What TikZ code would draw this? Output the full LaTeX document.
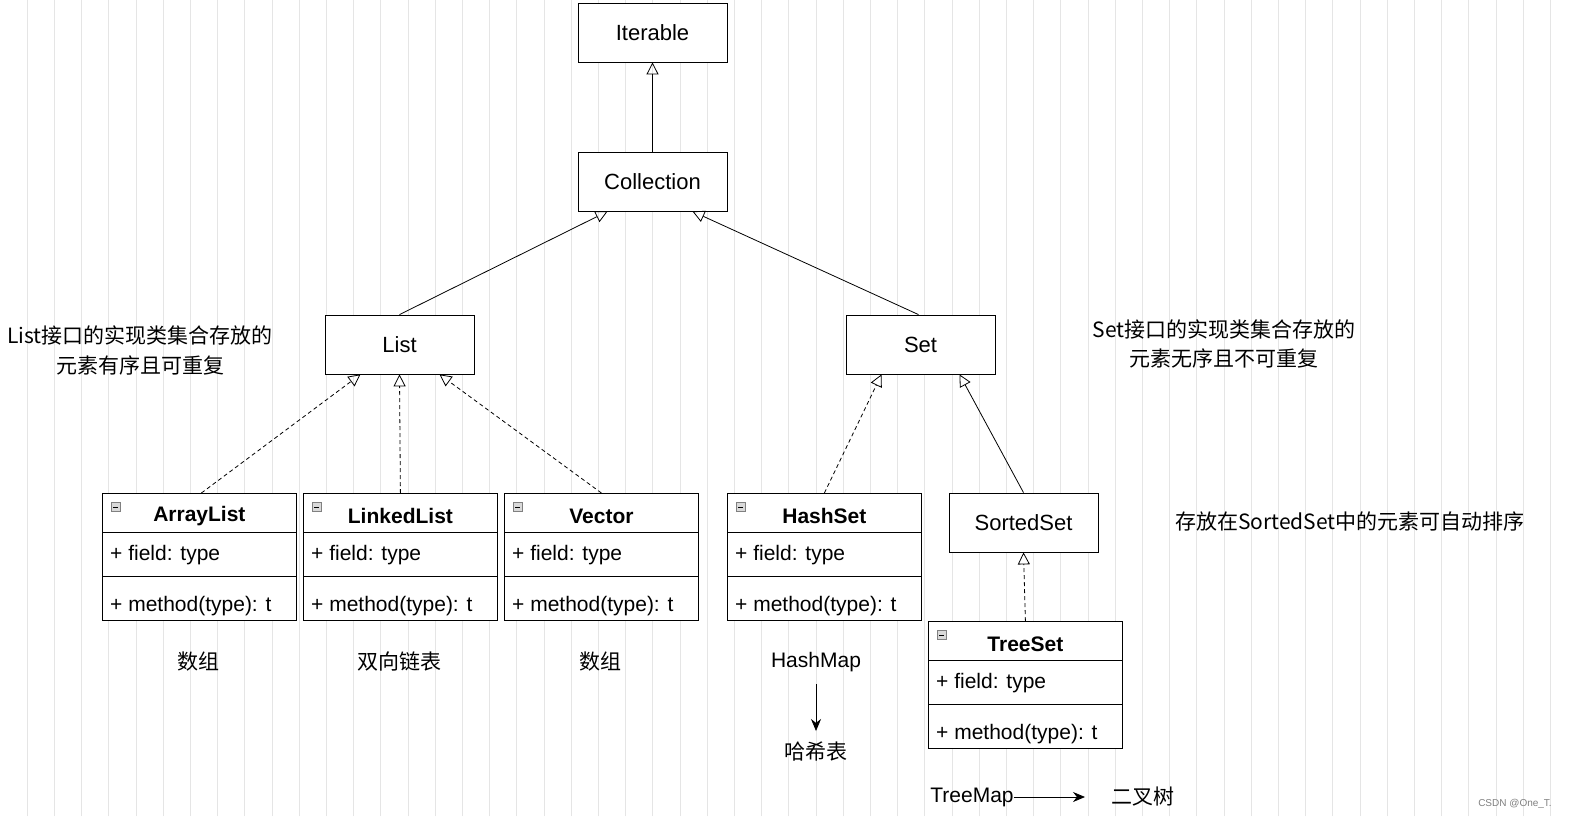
\documentclass[tikz,border=0pt]{standalone}
\usepackage{fontspec}
\setmainfont{Liberation Sans}
\newfontfamily\cjk{Noto Sans CJK SC}
\usetikzlibrary{arrows.meta,calc}
\tikzset{
  box/.style={draw,thick,fill=white,minimum width=149pt,minimum height=59pt,inner sep=0pt,font=\fontsize{22}{24}\selectfont},
  cls/.style={draw,thick,fill=white,minimum width=194pt,minimum height=127pt,inner sep=0pt},
  lbl/.style={font=\fontsize{21}{23}\selectfont,inner sep=0pt},
  zh/.style={font=\cjk\fontsize{21}{23}\selectfont,inner sep=0pt},
  inh/.style={-{Triangle[open,length=12pt,width=12pt]},thick},
  real/.style={inh,dashed,dash pattern=on 4pt off 3pt},
  arr/.style={-{Stealth[length=12pt,width=10pt]},thick}
}
\newcommand{\umlcls}[4]{% name, x-left, y-top, title
  \node[cls,anchor=north west] (#1) at (#2,#3) {};
  \draw[thick] ($(#1.north west)+(0,39)$) -- ($(#1.north east)+(0,39)$);
  \draw[thick] ($(#1.north west)+(0,83)$) -- ($(#1.north east)+(0,83)$);
  \node[draw=gray,fill=gray!30,minimum size=9pt,inner sep=0pt,anchor=north west] (#1i) at ($(#1.north west)+(9,9)$) {};
  \draw ($(#1i.west)+(2,0)$) -- ($(#1i.east)+(-2,0)$);
  \node[lbl,font=\bfseries\fontsize{21}{23}\selectfont] (#1t) at ($(#1.north)+(0,23)$) {#4};
  \node[lbl,anchor=west] (#1f) at ($(#1.north west)+(8,62)$) {+ field: type};
  \node[lbl,anchor=west] (#1m) at ($(#1.north west)+(8,113)$) {+ method(type): t};
}
\begin{document}
\begin{tikzpicture}[x=1pt,y=-1pt]
\useasboundingbox (0,0) rectangle (1592,832);
\clip (0,0) rectangle (1592,832);
\fill[white] (0,0) rectangle (1592,832);
\draw[black!10,line width=0.8pt] (1,0) grid[step=27.2] (1555,816);
\node[box] (It) at (652.5,32.5) {Iterable};
\node[box] (Co) at (652.5,181.5) {Collection};
\node[box] (Li) at (399.5,344.5) {List};
\node[box] (Se) at (920.5,344.5) {Set};
\node[box] (SS) at (1023.5,522.5) {SortedSet};
\umlcls{AL}{102}{493}{ArrayList}
\umlcls{LL}{303}{493}{LinkedList}
\umlcls{Ve}{504}{493}{Vector}
\umlcls{HS}{727}{493}{HashSet}
\umlcls{TS}{928}{621}{TreeSet}
\draw[inh] (Co.north) -- (It.south);
\draw[inh] (Li.north) -- ($(Co.south)+(-45,0)$);
\draw[inh] ($(Se.north)+(-2,0)$) -- ($(Co.south)+(40,0)$);
\draw[real] ($(AL.north)+(2,0)$) -- ($(Li.south)+(-39,0)$);
\draw[real] (LL.north) -- (Li.south);
\draw[real] (Ve.north) -- ($(Li.south)+(40,0)$);
\draw[real] (HS.north) -- ($(Se.south)+(-39,0)$);
\draw[inh] (SS.north) -- ($(Se.south)+(39,0)$);
\draw[real] (TS.north) -- (SS.south);
\node[zh] (t1) at (140,335) {List接口的实现类集合存放的};
\node[zh] (t2) at (140,365) {元素有序且可重复};
\node[zh] (t3) at (1224,329) {Set接口的实现类集合存放的};
\node[zh] (t4) at (1224,358) {元素无序且不可重复};
\node[zh] (t5) at (1350,521) {存放在SortedSet中的元素可自动排序};
\node[zh] (a1) at (198,662) {数组};
\node[zh] (a2) at (399,662) {双向链表};
\node[zh] (a3) at (600,662) {数组};
\node[lbl] (hm) at (816,662) {HashMap};
\node[zh] (hx) at (816,752) {哈希表};
\draw[arr] (hm.south)+(0,12) coordinate (h0) -- (816,731);
\node[lbl] (tm) at (972,797) {TreeMap};
\coordinate (te) at (1085,797);
\draw[arr] (tm.east) -- (te);
\node[zh] (ec) at (1143,797) {二叉树};
\node[font=\fontsize{10}{12}\selectfont,text=gray,inner sep=0pt] (wm) at (1515,804) {CSDN @One\_T.};
\end{tikzpicture}
\end{document}
